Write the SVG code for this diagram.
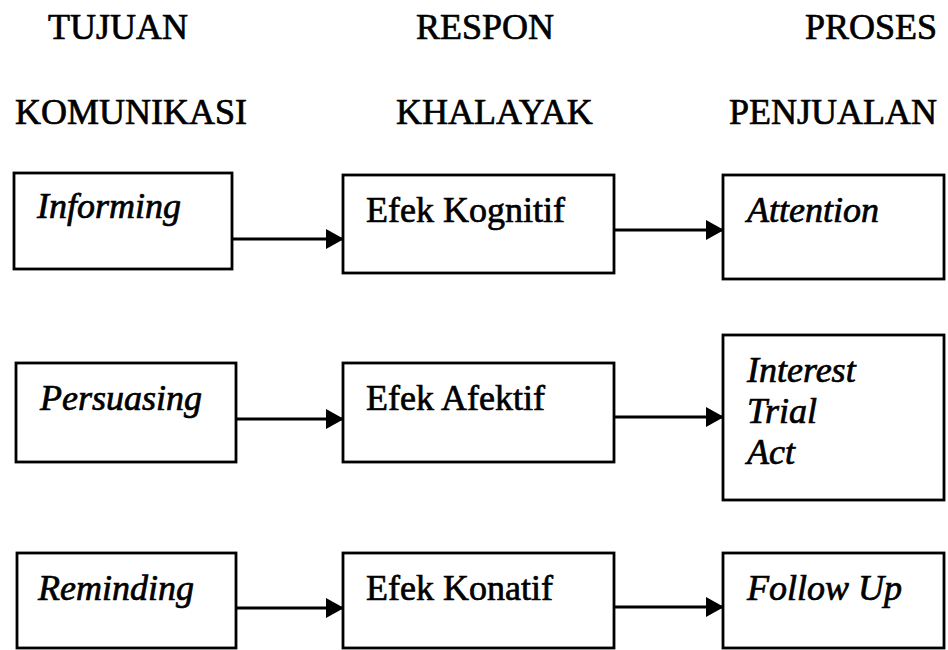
<svg xmlns="http://www.w3.org/2000/svg" width="948" height="650" viewBox="0 0 948 650" font-family="'Liberation Serif', 'Times New Roman', Times, serif">
<style>
text{font-family:'Liberation Serif','Times New Roman',Times,serif;font-size:36px;fill:#000;stroke:#000;stroke-width:0.7}
.i{font-style:italic}
.box{fill:#fff;stroke:#000;stroke-width:2.8}
.con{stroke:#000;stroke-width:2.8;fill:none;marker-end:url(#ah)}
</style>
<defs>
<marker id="ah" markerWidth="18" markerHeight="20" refX="17" refY="10" orient="auto" markerUnits="userSpaceOnUse">
<path d="M0,0 L18,10 L0,20 Z" fill="#000"/>
</marker>
</defs>
<rect width="948" height="650" fill="#fff"/>
<g id="headers">
<text x="48" y="39">TUJUAN</text>
<text x="416" y="39">RESPON</text>
<text x="805" y="39">PROSES</text>
<text x="15" y="124">KOMUNIKASI</text>
<text x="396" y="124">KHALAYAK</text>
<text x="729" y="124">PENJUALAN</text>
</g>
<g id="connectors">
<line class="con" x1="232" y1="239" x2="343" y2="239"/>
<line class="con" x1="614" y1="230" x2="723" y2="230"/>
<line class="con" x1="236" y1="419" x2="343" y2="419"/>
<line class="con" x1="614" y1="417" x2="723" y2="417"/>
<line class="con" x1="236" y1="608" x2="343" y2="608"/>
<line class="con" x1="614" y1="607" x2="723" y2="607"/>
</g>
<g id="informing"><rect class="box" x="14" y="173" width="218" height="96"/><text class="i" x="37" y="218">Informing</text></g>
<g id="kognitif"><rect class="box" x="343" y="175" width="271" height="98"/><text x="366" y="222">Efek Kognitif</text></g>
<g id="attention"><rect class="box" x="723" y="175" width="221" height="104"/><text class="i" x="747" y="222">Attention</text></g>
<g id="persuasing"><rect class="box" x="16" y="363" width="220" height="99"/><text class="i" x="40" y="410">Persuasing</text></g>
<g id="afektif"><rect class="box" x="343" y="363" width="271" height="99"/><text x="366" y="410">Efek Afektif</text></g>
<g id="interest"><rect class="box" x="723" y="335" width="221" height="165"/><text class="i" x="747" y="382">Interest</text><text class="i" x="747" y="423">Trial</text><text class="i" x="747" y="464">Act</text></g>
<g id="reminding"><rect class="box" x="17" y="553" width="219" height="95"/><text class="i" x="38" y="600">Reminding</text></g>
<g id="konatif"><rect class="box" x="343" y="553" width="271" height="95"/><text x="366" y="600">Efek Konatif</text></g>
<g id="followup"><rect class="box" x="723" y="553" width="221" height="95"/><text class="i" x="747" y="600">Follow Up</text></g>
</svg>
